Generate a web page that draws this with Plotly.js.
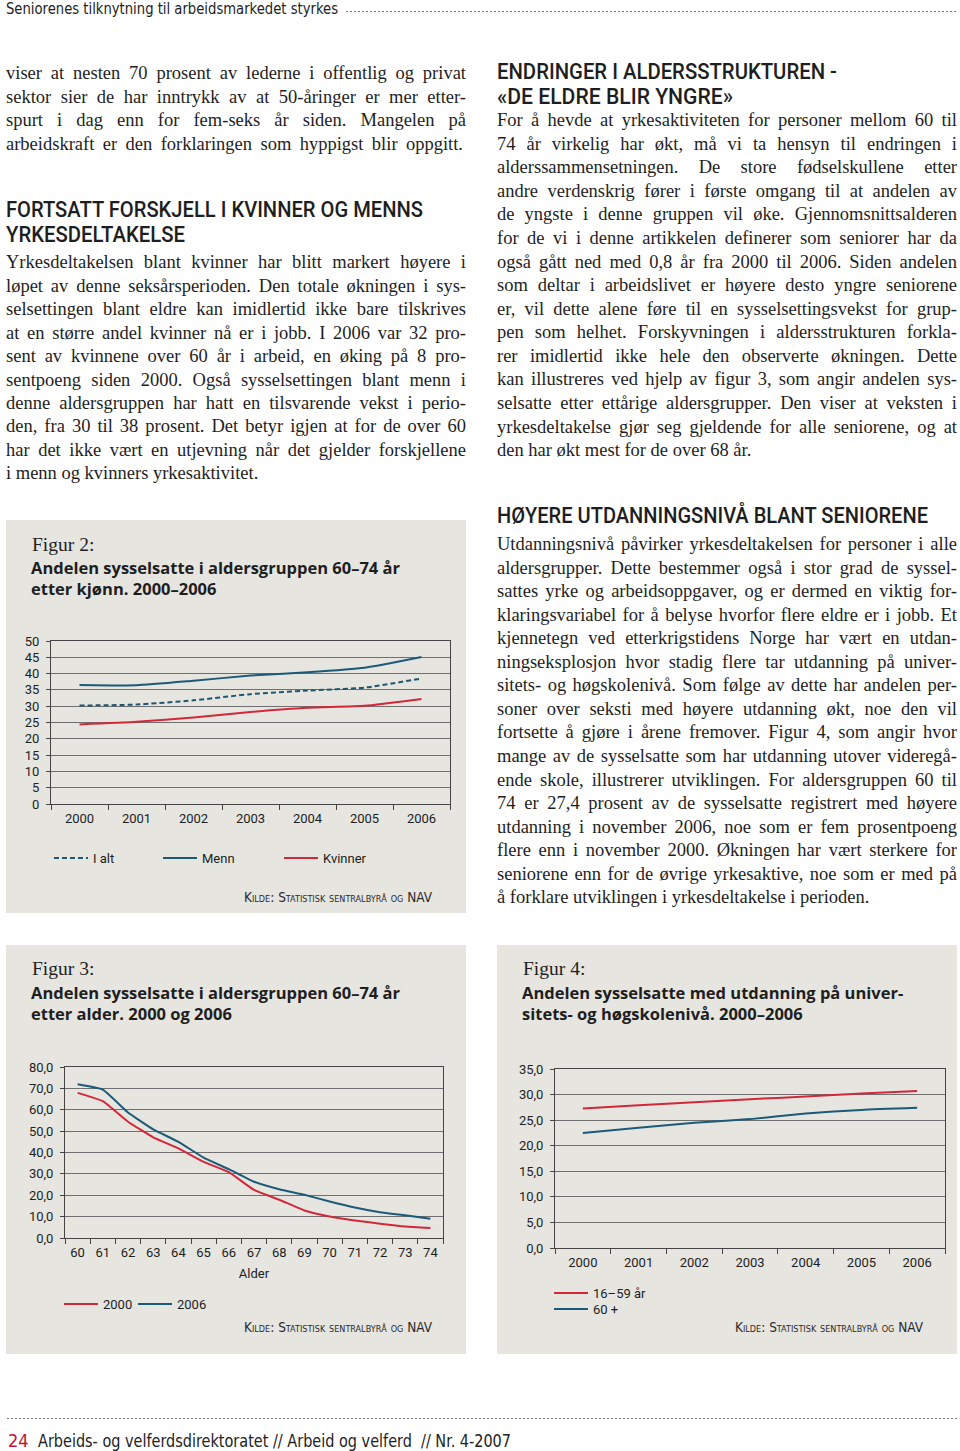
<!DOCTYPE html>
<html>
<head>
<meta charset="utf-8">
<script src="https://cdn.plot.ly/plotly-3.0.1.min.js"></script>
<style>
  html, body { margin:0; padding:0; background:#fff; }
  #page { position:relative; width:960px; height:1451px; overflow:hidden; background:#fff; }
  .ln { position:absolute; white-space:nowrap; }
  .body { font-family:"Liberation Serif","Times New Roman",serif; font-size:18.5px; color:#1e1e1e; }
  .head { font-family:Roboto,"DejaVu Sans",sans-serif; font-weight:500; font-size:22px; color:#1e1e1e; }
  .run { font-family:"Liberation Sans Narrow","DejaVu Sans Condensed",sans-serif; font-size:16px; color:#222; }
  .ln span { display:inline-block; transform-origin:0 50%; }
  .dots { position:absolute; height:3px;
          background-image:radial-gradient(circle, #7a7a7a 0.9px, transparent 1.1px);
          background-size:4px 3px; background-repeat:repeat-x; }
  .fig { position:absolute; }
</style>
</head>
<body>
<div id="page">
  <div class="dots" style="left:345px; top:10px; width:612px;"></div>
  <div class="dots" style="left:6px; top:1417px; width:951px;"></div>
  <div id="fig2" class="fig" style="left:6px; top:520px; width:460px; height:393px;"></div>
  <div id="fig3" class="fig" style="left:6px; top:945px; width:460px; height:409px;"></div>
  <div id="fig4" class="fig" style="left:497px; top:945px; width:460px; height:409px;"></div>
</div>
<script>
// ---------------- DATA ----------------
const years = ['2000','2001','2002','2003','2004','2005','2006'];
const iAlt    = [30.2, 30.5, 31.8, 33.7, 34.8, 35.7, 38.5];
const menn    = [36.5, 36.4, 37.8, 39.4, 40.4, 41.8, 45.1];
const kvinner = [24.4, 25.2, 26.5, 28.2, 29.5, 30.1, 32.2];

const ages = ['60','61','62','63','64','65','66','67','68','69','70','71','72','73','74'];
const andel2000 = [67.9, 64.0, 54.4, 47.1, 41.9, 35.6, 30.8, 22.5, 17.9, 12.9, 10.1, 8.2, 6.7, 5.4, 4.7];
const andel2006 = [71.9, 69.4, 58.7, 50.8, 45.0, 37.6, 32.2, 26.3, 22.8, 20.2, 17.1, 14.3, 12.1, 10.6, 9.0];

const utd1659 = [27.3, 27.9, 28.5, 29.1, 29.6, 30.2, 30.7];
const utd60   = [22.5, 23.5, 24.5, 25.2, 26.3, 27.0, 27.4];

// ---------------- PAGE TEXT ----------------
const textBlocks = [
  {cls:'run', x:6, first:9, lh:20, mode:'scale', lines:[['Seniorenes tilknytning til arbeidsmarkedet styrkes',332]]},
  {cls:'body', x:6, first:74, lh:23.5, mode:'justify', width:460, lines:[
    'viser at nesten 70 prosent av lederne i offentlig og privat',
    'sektor sier de har inntrykk av at 50-åringer er mer etter-',
    'spurt i dag enn for fem-seks år siden. Mangelen på',
    ['arbeidskraft er den forklaringen som hyppigst blir oppgitt.',457]]},
  {cls:'head', x:6, first:209, lh:25, mode:'scale', lines:[
    ['FORTSATT FORSKJELL I KVINNER OG MENNS',417],
    ['YRKESDELTAKELSE',179]]},
  {cls:'body', x:6, first:263, lh:23.45, mode:'justify', width:460, lines:[
    'Yrkesdeltakelsen blant kvinner har blitt markert høyere i',
    'løpet av denne seksårsperioden. Den totale økningen i sys-',
    'selsettingen blant eldre kan imidlertid ikke bare tilskrives',
    'at en større andel kvinner nå er i jobb. I 2006 var 32 pro-',
    'sent av kvinnene over 60 år i arbeid, en øking på 8 pro-',
    'sentpoeng siden 2000. Også sysselsettingen blant menn i',
    'denne aldersgruppen har hatt en tilsvarende vekst i perio-',
    'den, fra 30 til 38 prosent. Det betyr igjen at for de over 60',
    'har det ikke vært en utjevning når det gjelder forskjellene',
    ['i menn og kvinners yrkesaktivitet.',0]]},
  {cls:'head', x:497, first:71, lh:25, mode:'scale', lines:[
    ['ENDRINGER I ALDERSSTRUKTUREN -',340],
    ['«DE ELDRE BLIR YNGRE»',236]]},
  {cls:'body', x:497, first:121, lh:23.57, mode:'justify', width:460, lines:[
    'For å hevde at yrkesaktiviteten for personer mellom 60 til',
    '74 år virkelig har økt, må vi ta hensyn til endringen i',
    'alderssammensetningen. De store fødselskullene etter',
    'andre verdenskrig fører i første omgang til at andelen av',
    'de yngste i denne gruppen vil øke. Gjennomsnittsalderen',
    'for de vi i denne artikkelen definerer som seniorer har da',
    'også gått ned med 0,8 år fra 2000 til 2006. Siden andelen',
    'som deltar i arbeidslivet er høyere desto yngre seniorene',
    'er, vil dette alene føre til en sysselsettingsvekst for grup-',
    'pen som helhet. Forskyvningen i aldersstrukturen forkla-',
    'rer imidlertid ikke hele den observerte økningen. Dette',
    'kan illustreres ved hjelp av figur 3, som angir andelen sys-',
    'selsatte etter ettårige aldersgrupper. Den viser at veksten i',
    'yrkesdeltakelse gjør seg gjeldende for alle seniorene, og at',
    ['den har økt mest for de over 68 år.',0]]},
  {cls:'head', x:497, first:515, lh:25, mode:'scale', lines:[
    ['HØYERE UTDANNINGSNIVÅ BLANT SENIORENE',431]]},
  {cls:'body', x:497, first:545, lh:23.53, mode:'justify', width:460, lines:[
    'Utdanningsnivå påvirker yrkesdeltakelsen for personer i alle',
    'aldersgrupper. Dette bestemmer også i stor grad de syssel-',
    'sattes yrke og arbeidsoppgaver, og er dermed en viktig for-',
    'klaringsvariabel for å belyse hvorfor flere eldre er i jobb. Et',
    'kjennetegn ved etterkrigstidens Norge har vært en utdan-',
    'ningseksplosjon hvor stadig flere tar utdanning på univer-',
    'sitets- og høgskolenivå. Som følge av dette har andelen per-',
    'soner over seksti med høyere utdanning økt, noe den vil',
    'fortsette å gjøre i årene fremover. Figur 4, som angir hvor',
    'mange av de sysselsatte som har utdanning utover videregå-',
    'ende skole, illustrerer utviklingen. For aldersgruppen 60 til',
    '74 er 27,4 prosent av de sysselsatte registrert med høyere',
    'utdanning i november 2006, noe som er fem prosentpoeng',
    'flere enn i november 2000. Økningen har vært sterkere for',
    'seniorene enn for de øvrige yrkesaktive, noe som er med på',
    ['å forklare utviklingen i yrkesdeltakelse i perioden.',0]]}
];

const page = document.getElementById('page');
const lineEls = [];
textBlocks.forEach(b => {
  b.lines.forEach((ln, i) => {
    const txt = Array.isArray(ln) ? ln[0] : ln;
    const target = Array.isArray(ln) ? ln[1] : b.width;
    const d = document.createElement('div');
    d.className = 'ln ' + b.cls;
    const cy = b.first + i * b.lh;
    d.style.left = b.x + 'px';
    d.style.top = (cy - b.lh / 2) + 'px';
    d.style.height = b.lh + 'px';
    d.style.lineHeight = b.lh + 'px';
    const s = document.createElement('span');
    s.textContent = txt;
    d.appendChild(s);
    page.appendChild(d);
    lineEls.push({s, target, mode: b.mode, txt});
  });
});

// footer
(function(){
  const d = document.createElement('div');
  d.className = 'ln run';
  d.style.left = '8px'; d.style.top = '1430px'; d.style.height = '22px'; d.style.lineHeight = '22px';
  d.innerHTML = '<span id="pn" style="color:#c4122f;font-size:18px;">24</span>';
  page.appendChild(d);
  const e = document.createElement('div');
  e.className = 'ln run';
  e.style.left = '38px'; e.style.top = '1430px'; e.style.height = '22px'; e.style.lineHeight = '22px';
  const s = document.createElement('span');
  s.style.fontSize = '17px';
  s.textContent = 'Arbeids- og velferdsdirektoratet // Arbeid og velferd\u00a0 // Nr. 4-2007';
  e.appendChild(s);
  page.appendChild(e);
  lineEls.push({s, target:473, mode:'scale', txt:s.textContent});
})();

function fitText() {
  lineEls.forEach(o => {
    if (!o.target) return;
    const w = o.s.getBoundingClientRect().width;
    if (o.mode === 'justify') {
      const n = (o.txt.match(/ /g) || []).length;
      if (n > 0) o.s.style.wordSpacing = ((o.target - w) / n) + 'px';
    } else {
      o.s.style.transform = 'scaleX(' + (o.target / w) + ')';
    }
  });
}
if (document.fonts && document.fonts.ready) document.fonts.ready.then(fitText); else fitText();

// ---------------- CHARTS ----------------
const BG = '#e6e5e0';
const BLUE = '#1b5a78';
const RED = '#d2283a';
const TEAL = '#1f5670';
const SANS = 'Roboto, "DejaVu Sans", sans-serif';
const TSANS = '"Open Sans", Roboto, sans-serif';
const SERIF = '"Liberation Serif", "Times New Roman", serif';
const NARROW = '"Liberation Sans Narrow", "DejaVu Sans Condensed", sans-serif';

function mk(W, H, m, title, fig, srcY, xaxis, yaxis, legends) {
  m.autoexpand = false;
  const pw = W - m.l - m.r, ph = H - m.t - m.b;
  const xp = px => (px - m.l) / pw;
  const yp = py => (H - m.b - py) / ph;
  const layout = {
    width: W, height: H, margin: m,
    paper_bgcolor: BG, plot_bgcolor: BG,
    separators: ', ',
    showlegend: true,
    title: {text: title, x: 25 / W, xref: 'container', xanchor: 'left',
            y: 1 - 54 / H, yref: 'container', yanchor: 'top',
            font: {family: TSANS, size: 16.5, color: '#1e1e1e', weight: 700}},
    xaxis: xaxis, yaxis: yaxis,
    annotations: [
      {text: fig, xref: 'paper', yref: 'paper', x: xp(24), y: yp(24), xanchor: 'left', yanchor: 'middle',
       showarrow: false, font: {family: SERIF, size: 19.5, color: '#1e1e1e'}},
      {text: 'Kilde: Statistisk sentralbyrå og NAV', xref: 'paper', yref: 'paper', x: xp(429), y: yp(srcY),
       xanchor: 'right', yanchor: 'middle', showarrow: false,
       font: {family: NARROW, size: 13.5, color: '#2a2a2a', variant: 'small-caps'}}
    ]
  };
  legends.forEach((lg, i) => {
    layout[i === 0 ? 'legend' : 'legend' + (i + 1)] = {
      x: (lg.x - 5) / W, xref: 'container', xanchor: 'left',
      y: 1 - lg.y / H, yref: 'container', yanchor: 'middle',
      bgcolor: 'rgba(0,0,0,0)', borderwidth: 0, itemwidth: 34,
      font: {family: SANS, size: 13, color: '#1e1e1e'}
    };
  });
  return layout;
}

function yax(range, dtick, fmt) {
  return {range: range, dtick: dtick, tick0: 0, tickformat: fmt, fixedrange: true,
          showgrid: true, gridcolor: '#6f6f6f', gridwidth: 1, zeroline: false,
          showline: true, linecolor: '#444', linewidth: 1, mirror: true, automargin: false,
          ticks: 'outside', ticklen: 4, tickcolor: '#444', ticklabelstandoff: 4,
          tickfont: {family: SANS, size: 13, color: '#1e1e1e'}};
}
function xax(n, extra) {
  return Object.assign({type: 'category', range: [-0.5, n - 0.5], tickson: 'boundaries',
          ticks: 'outside', ticklen: 5, ticklabelstandoff: 2,
          tickcolor: '#444', showgrid: false, showline: true, linecolor: '#444', linewidth: 1,
          mirror: true, fixedrange: true, tickangle: 0, automargin: false,
          tickfont: {family: SANS, size: 13, color: '#1e1e1e'}}, extra || {});
}
const cfg = {staticPlot: true, displayModeBar: false, responsive: false};

// Figur 2
Plotly.newPlot('fig2', [
  {x: years, y: iAlt, name: 'I alt', type: 'scatter', mode: 'lines', legend: 'legend',
   line: {color: TEAL, width: 2, dash: '5px,3px', shape: 'spline', smoothing: 0.5}},
  {x: years, y: menn, name: 'Menn', type: 'scatter', mode: 'lines', legend: 'legend2',
   line: {color: BLUE, width: 2, shape: 'spline', smoothing: 0.5}},
  {x: years, y: kvinner, name: 'Kvinner', type: 'scatter', mode: 'lines', legend: 'legend3',
   line: {color: RED, width: 2, shape: 'spline', smoothing: 0.5}}
], mk(460, 393, {l: 45, r: 16, t: 121, b: 109},
  'Andelen sysselsatte i aldersgruppen 60–74 år<br>etter kjønn. 2000–2006', 'Figur 2:', 377,
  xax(years.length), yax([0, 50], 5, 'd'),
  [{x: 48, y: 338}, {x: 157, y: 338}, {x: 278, y: 338}]), cfg);

// Figur 3
Plotly.newPlot('fig3', [
  {x: ages, y: andel2000, name: '2000', type: 'scatter', mode: 'lines', legend: 'legend',
   line: {color: RED, width: 2, shape: 'spline', smoothing: 0.4}},
  {x: ages, y: andel2006, name: '2006', type: 'scatter', mode: 'lines', legend: 'legend2',
   line: {color: BLUE, width: 2, shape: 'spline', smoothing: 0.4}}
], mk(460, 409, {l: 59, r: 23, t: 122, b: 116},
  'Andelen sysselsatte i aldersgruppen 60–74 år<br>etter alder. 2000 og 2006', 'Figur 3:', 382,
  xax(ages.length, {title: {text: 'Alder', standoff: 10, font: {family: SANS, size: 13, color: '#1e1e1e'}}}),
  yax([0, 80], 10, '.1f'),
  [{x: 58, y: 359}, {x: 132, y: 359}]), cfg);

// Figur 4
Plotly.newPlot('fig4', [
  {x: years, y: utd1659, name: '16–59 år', type: 'scatter', mode: 'lines', legend: 'legend',
   line: {color: RED, width: 2, shape: 'spline', smoothing: 0.5}},
  {x: years, y: utd60, name: '60 +', type: 'scatter', mode: 'lines', legend: 'legend2',
   line: {color: BLUE, width: 2, shape: 'spline', smoothing: 0.5}}
], mk(460, 409, {l: 58, r: 12, t: 124, b: 106},
  'Andelen sysselsatte med utdanning på univer-<br>sitets- og høgskolenivå. 2000–2006', 'Figur 4:', 382,
  xax(years.length), yax([0, 35], 5, '.1f'),
  [{x: 57, y: 348}, {x: 57, y: 364}]), cfg);
</script>
</body>
</html>
